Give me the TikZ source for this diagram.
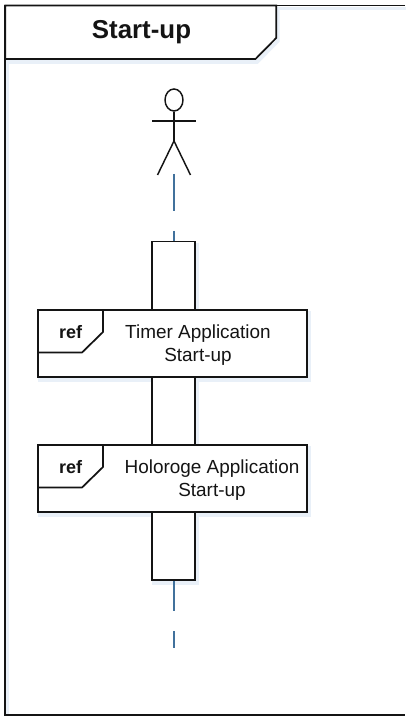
\documentclass[tikz,border=0pt]{standalone}
\usepackage{fontspec}
\setmainfont{Liberation Sans}
\usetikzlibrary{shapes.geometric}
\definecolor{lifeblue}{HTML}{41719C}
\definecolor{glow}{HTML}{E9F0F8}
\definecolor{ink}{HTML}{141414}
\tikzset{
  x=0.75pt,y=-0.75pt,
  outline/.style={draw=ink,line width=1.3pt,line join=miter},
  shade glow/.style={draw=glow,line width=2.8pt,shift={(1.5,3)}},
  boxed/.style={outline,fill=white},
  lifeline/.style={draw=lifeblue,line width=1.9pt},
  stick/.style={draw=ink,line width=1.1pt},
  head/.style={draw=ink,line width=1.1pt,fill=white,ellipse,inner sep=0pt,minimum width=13.5pt,minimum height=16.5pt},
  lbl/.style={inner sep=0pt,font=\fontsize{14.2}{17.2}\selectfont,text=ink,align=center},
  reftxt/.style={inner sep=0pt,font=\fontsize{13.5}{16}\selectfont\bfseries,text=ink},
  titletxt/.style={inner sep=0pt,font=\fontsize{19.4}{22}\selectfont\bfseries,text=ink}
}
\newcommand{\framepath}{(405,5.5) -- (5.2,5.5) -- (5.2,715) -- (405,715)}
\newcommand{\titlepath}{(5.2,5.5) -- (276.2,5.5) -- (276.2,38) -- (255.5,59) -- (5.2,59) -- cycle}
\newcommand{\activepath}{(152.2,241.5) rectangle (195.2,580)}
\newcommand{\refonepath}{(38.2,310) rectangle (307.2,377)}
\newcommand{\reftwopath}{(38.2,445) rectangle (307.2,512)}
\begin{document}
\begin{tikzpicture}
\useasboundingbox (0,0) rectangle (405,716);
\fill[white] (0,0) rectangle (405,716);
% soft shadows, all beneath the outlines
\draw[shade glow] \framepath;
\draw[shade glow] \titlepath;
\draw[shade glow] \activepath;
\draw[shade glow] \refonepath;
\draw[shade glow] \reftwopath;
% frame
\draw[outline] \framepath;
% title pentagon
\draw[boxed] \titlepath;
\node[titletxt] (title) at (141.5,32) {Start-up};
% actor
\node[head] (head) at (174,100) {};
\coordinate (hip) at (174,141);
\coordinate (armL) at (152,121);
\coordinate (armR) at (196,121);
\coordinate (footL) at (157.5,175);
\coordinate (footR) at (190.5,175);
\draw[stick] (head.south) -- (hip);
\draw[stick] (armL) -- (armR);
\draw[stick] (footL) -- (hip) -- (footR);
% lifeline
\coordinate (l1) at (174,174);
\coordinate (l2) at (174,211);
\coordinate (l3) at (174,231);
\coordinate (l4) at (174,241);
\coordinate (l5) at (174,580);
\coordinate (l6) at (174,611);
\coordinate (l7) at (174,631);
\coordinate (l8) at (174,648);
\draw[lifeline] (l1) -- (l2);
\draw[lifeline] (l3) -- (l4);
\draw[lifeline] (l5) -- (l6);
\draw[lifeline] (l7) -- (l8);
% activation
\draw[boxed] \activepath;
% ref 1
\draw[boxed] \refonepath;
\draw[outline] (38.2,310) -- (103,310) -- (103,332) -- (82,352.5) -- (38.2,352.5);
\node[reftxt] (r1) at (70.7,332.5) {ref};
\node[lbl] (t1) at (198,345) {Timer Application\\Start-up};
% ref 2
\draw[boxed] \reftwopath;
\draw[outline] (38.2,445) -- (103,445) -- (103,467) -- (82,487.5) -- (38.2,487.5);
\node[reftxt] (r2) at (70.7,467.5) {ref};
\node[lbl] (t2) at (212,480) {Holoroge Application\\Start-up};
\end{tikzpicture}
\end{document}
